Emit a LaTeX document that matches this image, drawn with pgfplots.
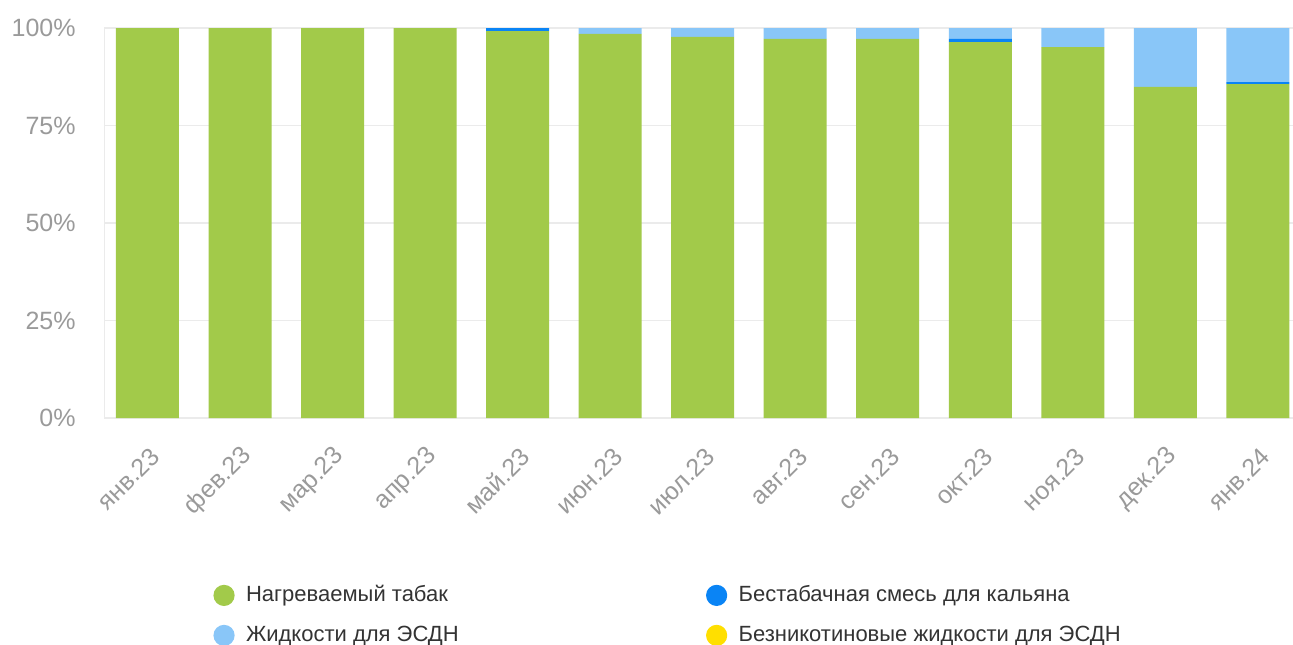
\documentclass[border=0pt]{standalone}
\usepackage{pgfplots}
\pgfplotsset{compat=1.18}
\usepackage{fontspec}
\setmainfont{Liberation Sans}

\definecolor{cGreen}{HTML}{A2CA4A}
\definecolor{cBlue}{HTML}{0A84F5}
\definecolor{cLight}{HTML}{89C6F8}
\definecolor{cYellow}{HTML}{FFDF00}
\definecolor{cTick}{HTML}{9A9A9A}
\definecolor{cGrid}{HTML}{EBEBEB}
\definecolor{cText}{HTML}{333333}

\begin{document}
\begin{tikzpicture}
\begin{axis}[
    ybar stacked,
    scale only axis,
    width=594.5pt, height=195pt,
    bar width=31.5pt,
    xmin=-0.47, xmax=12.38,
    ymin=0, ymax=100,
    xtick=data,
    xticklabels={янв.23,фев.23,мар.23,апр.23,май.23,июн.23,июл.23,авг.23,сен.23,окт.23,ноя.23,дек.23,янв.24},
    ytick={0,25,50,75,100},
    yticklabels={0\%,25\%,50\%,75\%,100\%},
    axis x line*=bottom, axis y line*=left,
    axis line style={cGrid, -},
    major tick length=0pt,
    ymajorgrids,
    grid style={cGrid, line width=0.8pt},
    tick label style={font=\fontsize{12.5}{14}\selectfont, text=cTick},
    yticklabel style={anchor=east, inner sep=0pt, xshift=-14pt},
    xticklabel style={font=\fontsize{12.5}{14}\selectfont, xshift=4pt, yshift=-17pt, rotate=45, anchor=east, inner sep=0pt},
    legend columns=2,
    legend image code/.code={\fill[#1] (5.3pt,0pt) circle (5.3pt); \path (15.3pt,0pt);},
    legend style={draw=none, fill=none, inner sep=0pt,
        at={(0.0917,-0.4205)}, anchor=north west,
        font=\fontsize{11}{12}\selectfont, text=cText,
        nodes={inner sep=1pt, text height=8.5pt, text depth=2.5pt},
        /tikz/row sep=7pt},
    legend cell align=left,
]
\addplot[fill=cGreen, draw=none] coordinates {
    (0,100) (1,100) (2,100) (3,100) (4,99.2) (5,98.5) (6,97.7)
    (7,97.2) (8,97.2) (9,96.4) (10,95.1) (11,84.9) (12,85.6)};
\addlegendentry{\makebox[229pt][l]{Нагреваемый табак}}
\addplot[fill=cBlue, draw=none] coordinates {
    (0,0) (1,0) (2,0) (3,0) (4,0.8) (5,0) (6,0)
    (7,0) (8,0) (9,0.8) (10,0) (11,0) (12,0.5)};
\addlegendentry{Бестабачная смесь для кальяна}
\addplot[fill=cLight, draw=none] coordinates {
    (0,0) (1,0) (2,0) (3,0) (4,0) (5,1.5) (6,2.3)
    (7,2.8) (8,2.8) (9,2.8) (10,4.9) (11,15.1) (12,13.9)};
\addlegendentry{\makebox[229pt][l]{Жидкости для ЭСДН}}
\addplot[fill=cYellow, draw=none] coordinates {
    (0,0) (1,0) (2,0) (3,0) (4,0) (5,0) (6,0)
    (7,0) (8,0) (9,0) (10,0) (11,0) (12,0)};
\addlegendentry{Безникотиновые жидкости для ЭСДН}
\end{axis}
\pgfresetboundingbox
\path (-52pt,-113pt) rectangle (594.5pt,209pt);
\end{tikzpicture}
\end{document}
